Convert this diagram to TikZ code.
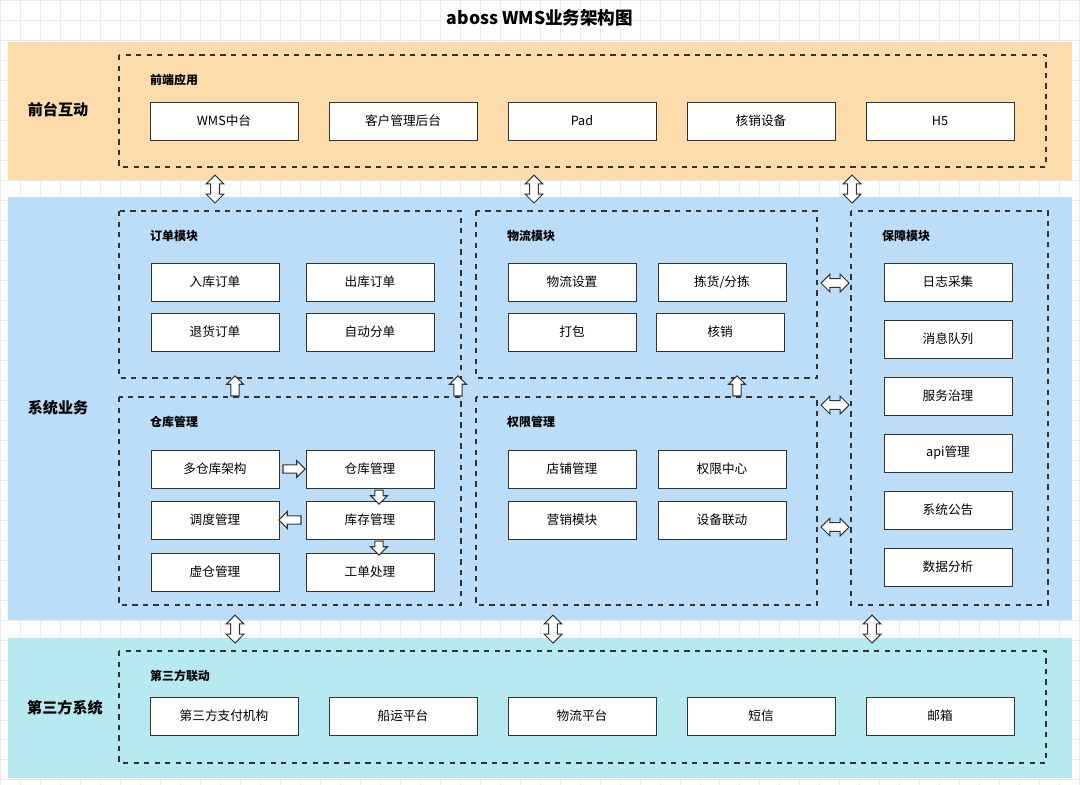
\documentclass[tikz,border=0pt]{standalone}
\usepackage{fontspec}
\setmainfont{Noto Sans CJK SC}
\usetikzlibrary{shapes.arrows}
\definecolor{frontbg}{HTML}{FDDCAB}
\definecolor{sysbg}{HTML}{BCDDF8}
\definecolor{thirdbg}{HTML}{B7EAF0}
\begin{document}
\begin{tikzpicture}[x=0.02cm,y=-0.02cm,font=\fontsize{7.2pt}{9pt}\selectfont]
    % `band' is used for the three coloured layers.
    % `module' is used for the dashed groups, `app' for the boxes.
    \tikzstyle{band} = [draw=none]
    \tikzstyle{module} = [draw=black!80,dashed,thick]
    \tikzstyle{app} = [draw=black!80,fill=white,minimum width=2.96cm,minimum height=0.76cm,inner sep=0pt]
    \tikzstyle{subapp} = [app,minimum width=2.56cm]
    \tikzstyle{modlabel} = [anchor=west,font=\fontsize{6.8pt}{8pt}\selectfont\bfseries]
    \tikzstyle{layer} = [font=\fontsize{8.6pt}{10pt}\selectfont\bfseries]
    \tikzstyle{dbl} = [draw=black!80,fill=white,semithick,shape=double arrow,double arrow head extend=2.6pt,minimum height=0.56cm,inner sep=2.2pt]
    \tikzstyle{sgl} = [draw=black!80,fill=white,semithick,shape=single arrow,single arrow head extend=2.4pt,minimum height=0.4cm,inner sep=2pt]
    \useasboundingbox (0,0) rectangle (1080,785);
    \fill[white] (0,0) rectangle (1080,785);
    \draw[black!8,step=0.4cm] (0,0) grid (1080,785);
    % Layers.
    \fill[frontbg] (8,42) rectangle (1072,180);
    \fill[sysbg] (8,197) rectangle (1072,620);
    \fill[thirdbg] (8,638) rectangle (1072,778);
    \node[font=\fontsize{10pt}{12pt}\selectfont\bfseries] (title) at (540,18) {aboss WMS业务架构图};
    \node[layer] (front) at (58,110) {前台互动};
    \node[layer] (sys) at (58,408) {系统业务};
    \node[layer] (third) at (65,708) {第三方系统};
    % Dashed groups.
    \draw[module] (119,55) rectangle (1046,167);
    \draw[module] (119,211) rectangle (461,378);
    \draw[module] (476,211) rectangle (817,378);
    \draw[module] (851,211) rectangle (1048,605);
    \draw[module] (119,397) rectangle (461,605);
    \draw[module] (476,397) rectangle (817,605);
    \draw[module] (119,651) rectangle (1046,763);
    \node[modlabel] at (144,80) {前端应用};
    \node[modlabel] at (144,236) {订单模块};
    \node[modlabel] at (501,236) {物流模块};
    \node[modlabel] at (876,236) {保障模块};
    \node[modlabel] at (144,422) {仓库管理};
    \node[modlabel] at (501,422) {权限管理};
    \node[modlabel] at (144,676) {第三方联动};
    % Front end apps.
    \node[app] (wms) at (224,121) {WMS中台};
    \node[app] (crm) at (403,121) {客户管理后台};
    \node[app] (pad) at (582,121) {Pad};
    \node[app] (dev) at (761,121) {核销设备};
    \node[app] (h5) at (940,121) {H5};
    % Order and logistics.
    \node[subapp] (inord) at (215,282) {入库订单};
    \node[subapp] (outord) at (370,282) {出库订单};
    \node[subapp] (retord) at (215,332) {退货订单};
    \node[subapp] (split) at (370,332) {自动分单};
    \node[subapp] (lset) at (572,282) {物流设置};
    \node[subapp] (pick) at (722,282) {拣货/分拣};
    \node[subapp] (pack) at (572,332) {打包};
    \node[subapp] (veri) at (720,332) {核销};
    % Support.
    \node[subapp] (log) at (948,282) {日志采集};
    \node[subapp] (mq) at (948,339) {消息队列};
    \node[subapp] (gov) at (948,396) {服务治理};
    \node[subapp] (api) at (948,453) {api管理};
    \node[subapp] (notice) at (948,510) {系统公告};
    \node[subapp] (data) at (948,567) {数据分析};
    % Warehouse.
    \node[subapp] (multi) at (215,469) {多仓库架构};
    \node[subapp] (whm) at (370,469) {仓库管理};
    \node[subapp] (disp) at (215,520) {调度管理};
    \node[subapp] (stock) at (370,520) {库存管理};
    \node[subapp] (virt) at (215,572) {虚仓管理};
    \node[subapp] (work) at (370,572) {工单处理};
    % Permissions.
    \node[subapp] (shop) at (572,469) {店铺管理};
    \node[subapp] (perm) at (722,469) {权限中心};
    \node[subapp] (mkt) at (572,520) {营销模块};
    \node[subapp] (link) at (722,520) {设备联动};
    % Third party.
    \node[app] (pay) at (224,716) {第三方支付机构};
    \node[app] (ship) at (403,716) {船运平台};
    \node[app] (lplat) at (582,716) {物流平台};
    \node[app] (sms) at (761,716) {短信};
    \node[app] (mail) at (940,716) {邮箱};
    % Block arrows.
    \foreach \x in {215,534,852} \node[dbl,rotate=90] at (\x,189) {};
    \foreach \x in {235,553,872} \node[dbl,rotate=90] at (\x,629) {};
    \foreach \y in {283,405,527} \node[dbl] at (835,\y) {};
    \foreach \x in {235,458,737} \node[sgl,rotate=90] at (\x,388) {};
    \node[sgl,minimum height=0.44cm] at (292,469) {};
    \node[sgl,rotate=180,minimum height=0.44cm] at (292,520) {};
    \node[sgl,rotate=-90,minimum height=0.28cm] at (379,495) {};
    \node[sgl,rotate=-90,minimum height=0.28cm] at (379,546) {};
\end{tikzpicture}
\end{document}
